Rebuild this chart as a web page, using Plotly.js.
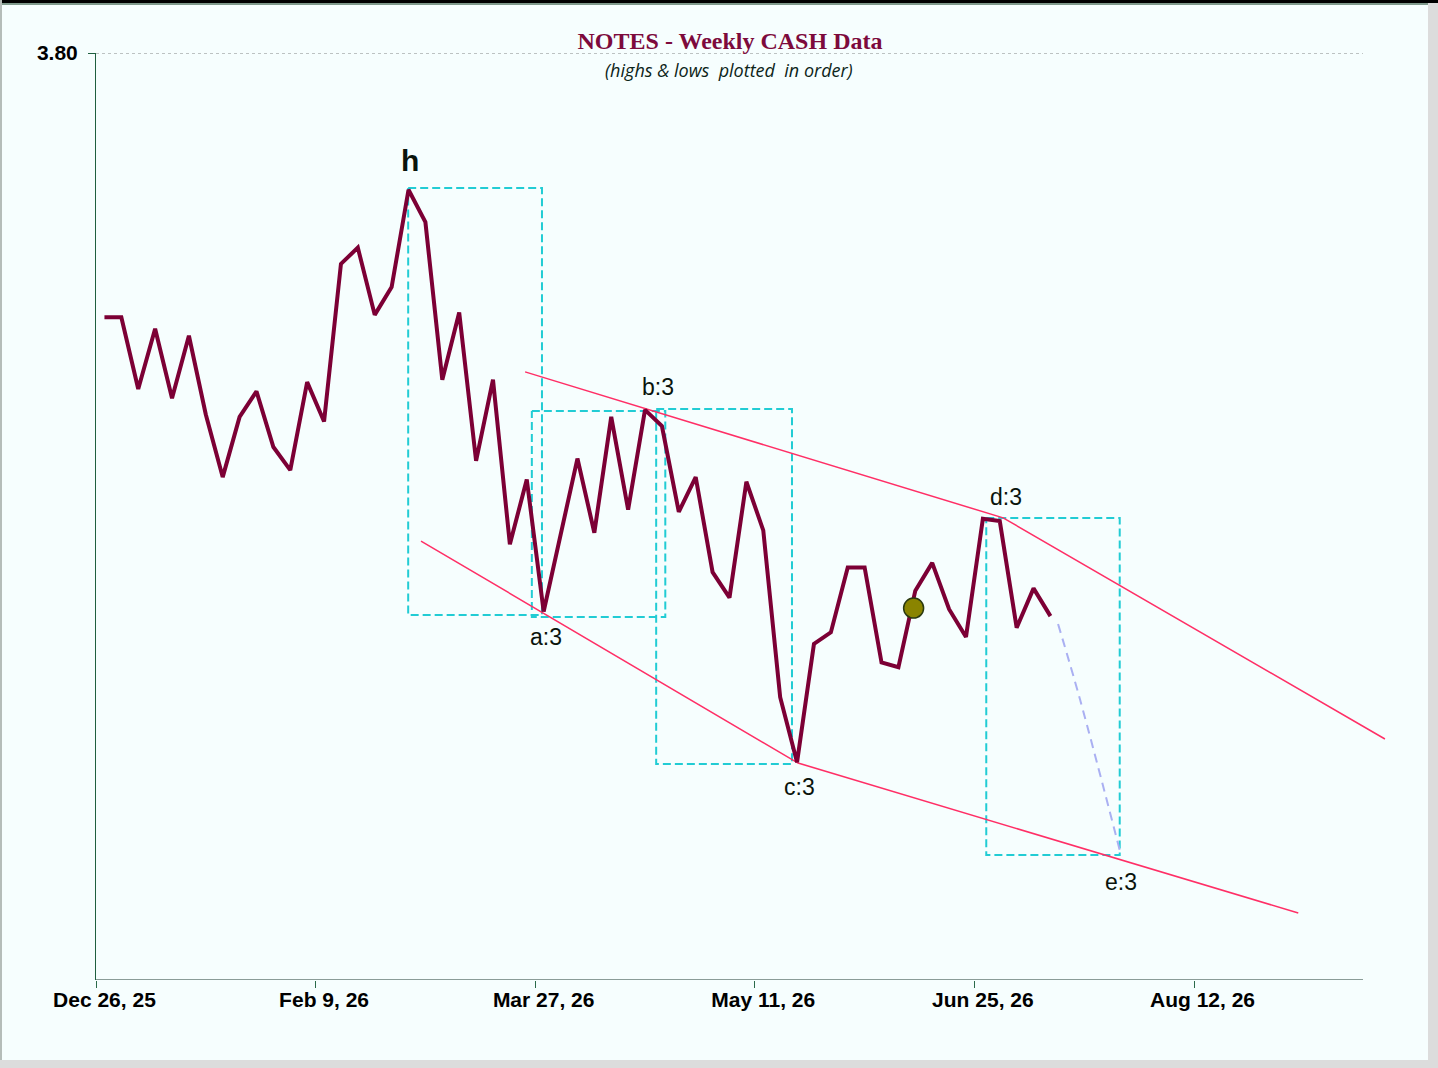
<!DOCTYPE html>
<html>
<head>
<meta charset="utf-8">
<script src="https://cdn.plot.ly/plotly-3.0.1.min.js"></script>
<style>
  body { margin: 0; background: #dcdcdc; }
  #wrap { position: relative; width: 1438px; height: 1068px; background: #dcdcdc; overflow: hidden; }
  #chart { position: absolute; left: 0; top: 0; width: 1428px; height: 1060px; }
  #topbar { position: absolute; left: 0; top: 0; width: 1438px; height: 3px; background: #000; }
  #topline { position: absolute; left: 0; top: 3px; width: 1428px; height: 2px; background: #7f9a8c; }
  #leftline { position: absolute; left: 0; top: 0; width: 2px; height: 1060px; background: #b5bdb9; }
</style>
</head>
<body>
<div id="wrap">
  <div id="chart"></div>
  <div id="topbar"></div>
  <div id="topline"></div>
  <div id="leftline"></div>
</div>
<script>
// half-week highs & lows, in plotted order
const prices = [
  3.686, 3.686, 3.655, 3.681, 3.651, 3.678, 3.644, 3.617, 3.643, 3.654,
  3.630, 3.620, 3.658, 3.641, 3.709, 3.716, 3.687, 3.699, 3.741, 3.727,
  3.659, 3.688, 3.624, 3.659, 3.588, 3.616, 3.559, 3.592, 3.625, 3.593,
  3.643, 3.603, 3.646, 3.639, 3.602, 3.617, 3.576, 3.565, 3.615, 3.594,
  3.522, 3.494, 3.545, 3.550, 3.578, 3.578, 3.537, 3.535, 3.568, 3.580,
  3.560, 3.548, 3.599, 3.598, 3.552, 3.569, 3.557
];

// x-axis labels (every 13th slot) and tick boundaries
const tickLabels = ['Dec 26, 25', 'Feb 9, 26', 'Mar 27, 26', 'May 11, 26', 'Jun 25, 26', 'Aug 12, 26'];
const labelSlots = [0, 13, 26, 39, 52, 65];
const tickSlots = [-0.5, 12.5, 25.5, 38.5, 51.5, 64.5];

// channel lines
const upperX = [24.9, 53.2, 75.8];
const upperY = [3.6624, 3.5994, 3.5040];
const lowerX = [18.74, 41.06, 70.67];
const lowerY = [3.5894, 3.4936, 3.4289];

// projected path to e
const projX = [56.45, 57.76, 60.13];
const projY = [3.5536, 3.5208, 3.4552];

// wave boxes
const boxX0 = [17.98, 25.3, 32.66, 52.2];
const boxX1 = [25.9, 33.2, 40.7, 60.1];
const boxY0 = [3.5575, 3.5566, 3.4932, 3.4539];
const boxY1 = [3.7417, 3.6455, 3.6464, 3.5994];

// marker
const dotX = [47.9];
const dotY = [3.5605];

// wave labels
const waveText = ['h', 'a:3', 'b:3', 'c:3', 'd:3', 'e:3'];
const waveX = [18.1, 26.14, 32.78, 41.13, 53.38, 60.19];
const waveY = [3.7538, 3.548, 3.6559, 3.4833, 3.6084, 3.4423];

const traces = [];

for (let i = 0; i < boxX0.length; i++) {
  traces.push({
    x: [boxX0[i], boxX1[i], boxX1[i], boxX0[i], boxX0[i]],
    y: [boxY1[i], boxY1[i], boxY0[i], boxY0[i], boxY1[i]],
    type: 'scatter', mode: 'lines',
    line: { color: '#22ccd4', width: 2, dash: '8px,4px' },
    hoverinfo: 'skip'
  });
}

traces.push({
  x: upperX, y: upperY, type: 'scatter', mode: 'lines',
  line: { color: '#ff2f66', width: 1.5 }, hoverinfo: 'skip'
});
traces.push({
  x: lowerX, y: lowerY, type: 'scatter', mode: 'lines',
  line: { color: '#ff2f66', width: 1.5 }, hoverinfo: 'skip'
});

traces.push({
  x: projX, y: projY, type: 'scatter', mode: 'lines',
  xaxis: 'x2',
  line: { color: '#aab0f2', width: 2, dash: '9px,6px', shape: 'spline' },
  hoverinfo: 'skip'
});

traces.push({
  x: prices.map((v, i) => i), y: prices, type: 'scatter', mode: 'lines',
  line: { color: '#7c0035', width: 4 }, name: 'NOTES'
});

traces.push({
  x: dotX, y: dotY, type: 'scatter', mode: 'markers',
  marker: { size: 20, color: '#8a8400', line: { color: '#2b3a10', width: 1.5 } }
});

const annotations = waveText.map((t, i) => ({
  x: waveX[i], y: waveY[i], xref: 'x', yref: 'y',
  text: i === 0 ? '<b>h</b>' : t,
  showarrow: false,
  font: { family: 'Liberation Sans, Arial, sans-serif', size: i === 0 ? 30 : 23, color: '#0a140c' }
}));

annotations.push({
  x: (729 - 96) / 1332, y: 1.0, xref: 'paper', yref: 'paper',
  xanchor: 'center', yanchor: 'middle', yshift: -17,
  text: '<i>(highs &amp; lows  plotted  in order)</i>',
  showarrow: false,
  font: { family: 'Open Sans, sans-serif', size: 18, color: '#0c2418' }
});

const xr = [-0.5, -0.5 + 1332 / 16.893];

const layout = {
  width: 1428, height: 1060,
  paper_bgcolor: '#f6fefe',
  plot_bgcolor: '#f6fefe',
  margin: { l: 96, r: 0, t: 53, b: 80 },
  showlegend: false,
  title: {
    text: '<b>NOTES - Weekly CASH Data</b>',
    x: 730 / 1428, xanchor: 'center',
    y: 1 - 41 / 1060, yanchor: 'middle',
    font: { family: 'Liberation Serif, Times New Roman, serif', size: 24, color: '#7d0a3c' }
  },
  xaxis: {
    range: xr, showgrid: false, zeroline: false, showline: false,
    tickvals: tickSlots, ticks: 'outside', ticklen: 7, tickwidth: 1, tickcolor: '#2a6a4a',
    showticklabels: false, fixedrange: true
  },
  xaxis2: {
    range: xr, overlaying: 'x', anchor: 'y', side: 'bottom',
    showgrid: false, zeroline: false, showline: false,
    tickvals: labelSlots, ticktext: tickLabels, ticks: '',
    ticklabelstandoff: 5,
    tickfont: { family: 'Liberation Sans, Arial, sans-serif', size: 21, color: '#000', weight: 'bold' }
  },
  yaxis: {
    range: [3.40, 3.80], showgrid: false, zeroline: false,
    showline: true, linecolor: '#1f5f3f', linewidth: 1,
    tickvals: [3.80], ticktext: ['3.80'], ticks: 'outside', ticklen: 7, tickcolor: '#1f5f3f',
    ticklabelstandoff: 6,
    tickfont: { family: 'Liberation Sans, Arial, sans-serif', size: 21, color: '#000', weight: 'bold' }
  },
  shapes: [
    { type: 'line', xref: 'x', yref: 'y', x0: -0.5, x1: 74.5, y0: 3.80, y1: 3.80,
      line: { color: '#a9aeae', width: 1.5, dash: 'dot' } },
    { type: 'line', xref: 'x', yref: 'y', x0: -0.5, x1: 74.5, y0: 3.40, y1: 3.40,
      line: { color: '#8a9c98', width: 2 } }
  ],
  annotations: annotations
};

Plotly.newPlot('chart', traces, layout, { displayModeBar: false, staticPlot: true });
</script>
</body>
</html>
